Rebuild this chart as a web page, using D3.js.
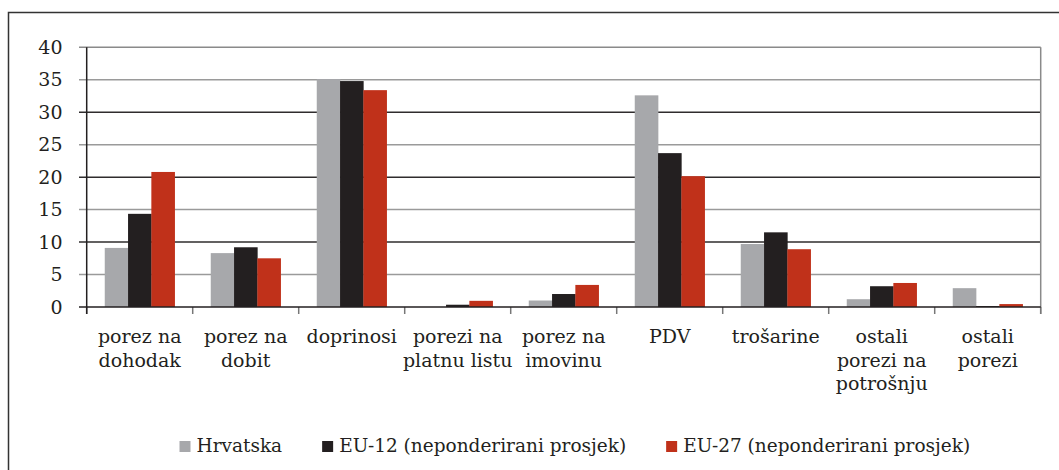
<!DOCTYPE html>
<html>
<head>
<meta charset="utf-8">
<script src="https://cdn.jsdelivr.net/npm/d3@7"></script>
<style>
  body { margin: 0; background: #fff; }
  svg { display: block; }
  text { font-family: "DejaVu Serif", serif; fill: #231f20; }
</style>
</head>
<body>
<div id="chart"></div>
<script>
// data
const categories = ["porez na dohodak", "porez na dobit", "doprinosi", "porezi na platnu listu",
  "porez na imovinu", "PDV", "trošarine", "ostali porezi na potrošnju", "ostali porezi"];
const catLines = [["porez na", "dohodak"], ["porez na", "dobit"], ["doprinosi"], ["porezi na", "platnu listu"],
  ["porez na", "imovinu"], ["PDV"], ["trošarine"], ["ostali", "porezi na", "potrošnju"], ["ostali", "porezi"]];
const seriesNames = ["Hrvatska", "EU-12 (neponderirani prosjek)", "EU-27 (neponderirani prosjek)"];
const hrvatska = [9.1, 8.3, 35.1, 0, 1.0, 32.6, 9.7, 1.2, 2.9];
const eu12 = [14.35, 9.2, 34.8, 0.35, 2.0, 23.7, 11.5, 3.2, 0.15];
const eu27 = [20.8, 7.5, 33.4, 0.95, 3.4, 20.15, 8.9, 3.7, 0.45];
const yTicks = [0, 5, 10, 15, 20, 25, 30, 35, 40];

const colors = ["#a7a8ab", "#231f20", "#c0311a"];
const seriesValues = [hrvatska, eu12, eu27];

const W = 1059, H = 470;
const plotLeft = 86.7, plotRight = 1040.7, plotTop = 47.3, plotBottom = 307;

const svg = d3.select("#chart").append("svg")
    .attr("width", W)
    .attr("height", H);

// outer frame (runs off the right and bottom of the picture)
svg.append("rect")
    .attr("x", 8.5).attr("y", 12.5)
    .attr("width", 1100).attr("height", 500)
    .attr("fill", "none")
    .attr("stroke", "#333")
    .attr("stroke-width", 1.5);

const x = d3.scaleBand()
    .domain(categories)
    .range([plotLeft, plotRight])
    .paddingInner(0)
    .paddingOuter(0);

const xs = d3.scaleBand()
    .domain(d3.range(seriesNames.length))
    .range([0, x.bandwidth()])
    .paddingInner(0)
    .paddingOuter(0.775);

const y = d3.scaleLinear()
    .domain([0, 40])
    .range([plotBottom, plotTop]);

// gridlines, alternating dark / gray like the original
svg.append("g")
    .selectAll("line")
    .data(yTicks.filter(d => d > 0))
    .enter().append("line")
        .attr("x1", plotLeft - 7.7)
        .attr("x2", plotRight)
        .attr("y1", d => y(d))
        .attr("y2", d => y(d))
        .attr("stroke", d => d === 40 ? "#8a8a8a" : (d % 10 === 0 ? "#2f2c2d" : "#9a9a9a"))
        .attr("stroke-width", 1.5);

// y tick labels
svg.append("g")
    .selectAll("text")
    .data(yTicks)
    .enter().append("text")
        .attr("x", 62.5)
        .attr("y", d => y(d))
        .attr("dy", "0.35em")
        .attr("text-anchor", "end")
        .style("font-size", "19px")
        .text(d => d);

// bars
const groups = svg.append("g")
    .selectAll("g")
    .data(categories)
    .enter().append("g")
        .attr("transform", d => `translate(${x(d)},0)`);

groups.selectAll("rect")
    .data((d, i) => seriesValues.map((vals, s) => ({s: s, v: vals[i]})))
    .enter().append("rect")
        .attr("x", d => xs(d.s))
        .attr("width", xs.bandwidth() + 0.3)
        .attr("y", d => y(d.v))
        .attr("height", d => y(0) - y(d.v))
        .attr("fill", d => colors[d.s]);

// right edge line
svg.append("line")
    .attr("x1", plotRight).attr("x2", plotRight)
    .attr("y1", plotTop).attr("y2", plotBottom + 7)
    .attr("stroke", "#8a8a8a")
    .attr("stroke-width", 1.5);

// category ticks
svg.append("g")
    .selectAll("line")
    .data(d3.range(categories.length + 1))
    .enter().append("line")
        .attr("x1", i => plotLeft + i * x.step())
        .attr("x2", i => plotLeft + i * x.step())
        .attr("y1", plotBottom)
        .attr("y2", plotBottom + 7)
        .attr("stroke", "#777")
        .attr("stroke-width", 1.5);

// x axis line
svg.append("line")
    .attr("x1", plotLeft - 7.7).attr("x2", plotRight)
    .attr("y1", plotBottom).attr("y2", plotBottom)
    .attr("stroke", "#231f20")
    .attr("stroke-width", 1.5);

// y axis line
svg.append("line")
    .attr("x1", plotLeft).attr("x2", plotLeft)
    .attr("y1", plotTop).attr("y2", plotBottom + 7)
    .attr("stroke", "#231f20")
    .attr("stroke-width", 1.5);

// category labels
const labels = svg.append("g")
    .selectAll("text")
    .data(categories)
    .enter().append("text")
        .attr("text-anchor", "middle")
        .attr("x", d => x(d) + x.bandwidth() / 2)
        .attr("y", 343.3)
        .style("font-size", "19px");

labels.selectAll("tspan")
    .data((d, i) => catLines[i])
    .enter().append("tspan")
        .attr("x", function() { return d3.select(this.parentNode).attr("x"); })
        .attr("dy", (d, i) => i === 0 ? 0 : 23.5)
        .text(d => d);

// legend
const legend = svg.append("g");
let lx = 179.5;
seriesNames.forEach((name, i) => {
    legend.append("rect")
        .attr("x", lx).attr("y", 441)
        .attr("width", 11).attr("height", 11)
        .attr("fill", colors[i]);
    const t = legend.append("text")
        .attr("x", lx + 17)
        .attr("y", 452.3)
        .style("font-size", "18.5px")
        .text(name);
    lx += 17 + t.node().getComputedTextLength() + 40;
});
</script>
</body>
</html>
